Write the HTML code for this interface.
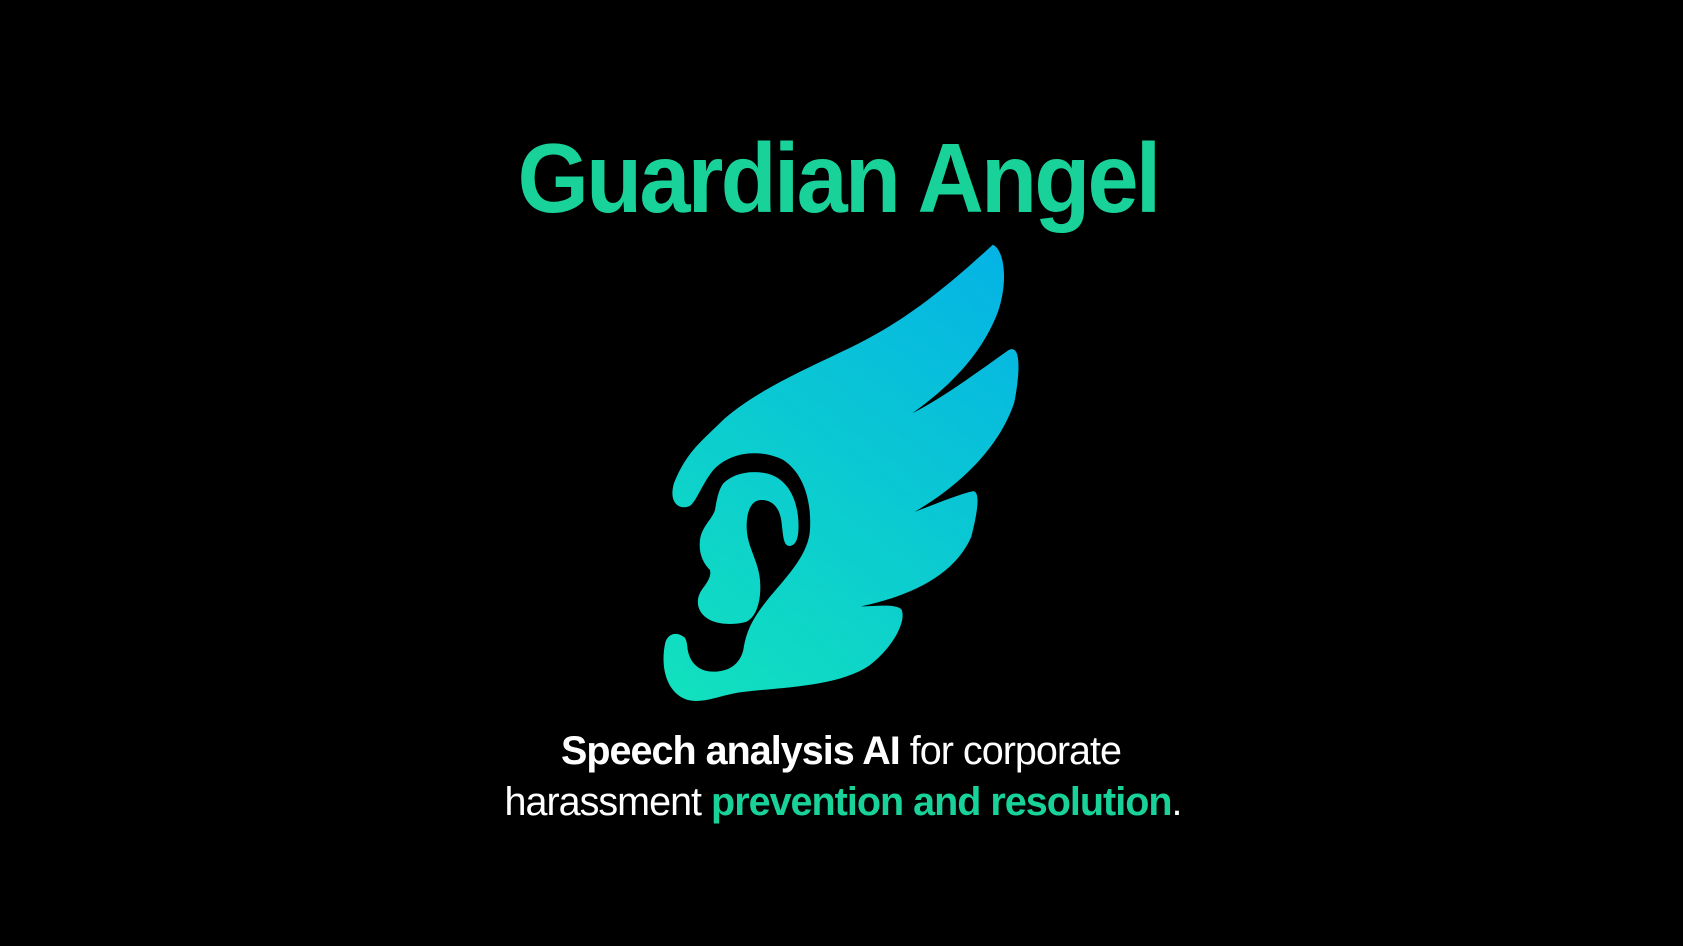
<!DOCTYPE html>
<html><head><meta charset="utf-8"><style>
html,body{margin:0;padding:0;background:#000;}
svg{display:block;}
</style></head><body>
<svg width="1683" height="946" viewBox="0 0 1683 946" xmlns="http://www.w3.org/2000/svg">
<defs>
<linearGradient id="g" gradientUnits="userSpaceOnUse" x1="950" y1="226" x2="617" y2="655">
<stop offset="0" stop-color="#04b2e6"/>
<stop offset="1" stop-color="#12e2bd"/>
</linearGradient>
<linearGradient id="g2" gradientUnits="userSpaceOnUse" x1="1110" y1="-531" x2="36" y2="849">
<stop offset="0" stop-color="#04b2e6"/>
<stop offset="1" stop-color="#12e2bd"/>
</linearGradient>
</defs>
<rect width="1683" height="946" fill="#000"/>
<text x="838" y="212" text-anchor="middle" textLength="641" lengthAdjust="spacingAndGlyphs" font-family="Liberation Sans, sans-serif" font-weight="bold" font-size="98" fill="#18d29a" letter-spacing="-3">Guardian Angel</text>
<g>
<g transform="scale(1.0733)">
<path fill="url(#g)" d="M925,228 C935,232 940,260 930,290 C915,330 885,360 850,385 C880,370 920,340 940,326 C952,320 950,350 945,375 C930,420 890,455 852,477 C870,470 895,460 905,458 C915,455 910,480 905,500 C890,535 850,555 802,565 C815,565 835,562 840,568 C845,580 830,605 810,620 C780,640 730,640 690,645 C670,648 655,656 640,652 C620,645 615,620 620,598 C625,585 640,590 645,605 L660,560 L655,500 L645,470 C635,477 622,470 628,450 C640,420 655,410 675,390 C710,360 760,340 800,320 C850,295 890,260 925,228 Z"/>
</g>
<g transform="translate(650,420) scale(0.3333)">
<path fill="#000" d="M110,265 C140,250 150,200 190,150 C240,95 330,85 400,120 C460,160 485,240 480,330 C475,400 420,460 360,530 C320,580 290,620 280,690 C270,730 240,755 190,755 C140,755 115,720 112,680 C110,655 100,640 80,637 C60,635 40,620 20,600 L20,260 Z"/>
<path fill="url(#g2)" d="M220,190 C250,160 300,150 350,160 C410,175 440,230 445,300 C448,350 440,375 420,378 C400,378 400,350 395,310 C390,260 365,240 335,240 C300,240 290,280 290,320 C290,380 325,420 330,480 C335,540 320,590 290,605 C260,615 210,615 180,600 C140,580 135,540 155,510 C170,490 185,470 180,450 C160,430 145,400 150,360 C155,320 185,300 195,270 C200,240 205,210 220,190 Z"/>
</g>
</g>
<text x="841" y="764" text-anchor="middle" textLength="560" lengthAdjust="spacingAndGlyphs" font-family="Liberation Sans, sans-serif" font-size="40" fill="#fff" letter-spacing="-1"><tspan font-weight="bold">Speech analysis AI</tspan> for corporate</text>
<text x="843" y="815" text-anchor="middle" textLength="677" lengthAdjust="spacingAndGlyphs" font-family="Liberation Sans, sans-serif" font-size="40" fill="#fff" letter-spacing="-1">harassment <tspan font-weight="bold" fill="#18d29a">prevention and resolution</tspan>.</text>
</svg>
</body></html>
